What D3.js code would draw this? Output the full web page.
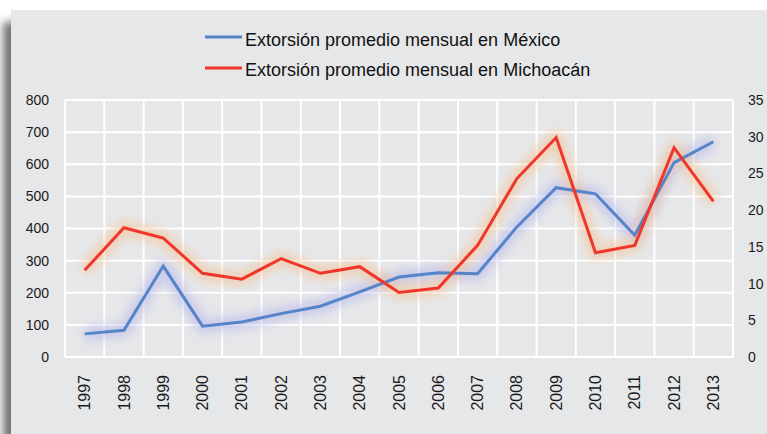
<!DOCTYPE html>
<html>
<head>
<meta charset="utf-8">
<script src="https://cdnjs.cloudflare.com/ajax/libs/d3/7.8.5/d3.min.js"></script>
<style>
  html, body { margin: 0; padding: 0; background: #ffffff; }
  svg { display: block; }
</style>
</head>
<body>
<svg id="chart" width="767" height="434"></svg>
<script>
// ---- data ----
const years = ["1997","1998","1999","2000","2001","2002","2003","2004","2005","2006","2007","2008","2009","2010","2011","2012","2013"];
const mexico = [72, 83, 283, 96, 109, 135, 158, 203, 249, 262, 259, 405, 527, 508, 379, 605, 670];
const michoacan = [11.8, 17.6, 16.2, 11.4, 10.6, 13.4, 11.4, 12.3, 8.8, 9.4, 15.2, 24.3, 29.9, 14.2, 15.2, 28.5, 21.2];
const leftTicks = [0, 100, 200, 300, 400, 500, 600, 700, 800];
const rightTicks = [0, 5, 10, 15, 20, 25, 30, 35];
const seriesNames = ["Extorsión promedio mensual en México", "Extorsión promedio mensual en Michoacán"];
const seriesColors = ["#5585c8", "#f0362a"];
const glowColors = ["#b3b4ea", "#f6c08e"];

const svg = d3.select("#chart");
const W = 767, H = 434;
const plot = { left: 65, right: 733, top: 100, bottom: 357 };
const FONT = "'Liberation Sans', Arial, sans-serif";

const defs = svg.append("defs");
const sh = defs.append("filter").attr("id", "shadow").attr("x", "-20%").attr("y", "-20%").attr("width", "140%").attr("height", "140%");
sh.append("feGaussianBlur").attr("stdDeviation", 4);
const gl = defs.append("filter").attr("id", "glow").attr("x", "-10%").attr("y", "-30%").attr("width", "120%").attr("height", "160%");
gl.append("feGaussianBlur").attr("stdDeviation", 5);

// panel shadow + panel
svg.append("rect").attr("x", 3).attr("y", 22).attr("width", W).attr("height", H)
  .attr("fill", "#444").attr("opacity", 0.75).attr("filter", "url(#shadow)");
svg.append("rect").attr("x", 11).attr("y", 10).attr("width", W - 11).attr("height", H - 10)
  .attr("fill", "#e6e7e9");

// scales
const x = d3.scaleBand().domain(years).range([plot.left, plot.right]).padding(0);
const yL = d3.scaleLinear().domain([0, 800]).range([plot.bottom, plot.top]);
const yR = d3.scaleLinear().domain([0, 35]).range([plot.bottom, plot.top]);

// grid
const grid = svg.append("g").attr("stroke", "#ffffff").attr("stroke-width", 2);
grid.selectAll("line.h").data(leftTicks).enter().append("line")
  .attr("x1", plot.left).attr("x2", plot.right)
  .attr("y1", d => yL(d)).attr("y2", d => yL(d));
const vEdges = years.map(d => x(d)).concat([plot.right]);
grid.selectAll("line.v").data(vEdges).enter().append("line")
  .attr("x1", d => d).attr("x2", d => d)
  .attr("y1", plot.top).attr("y2", plot.bottom);

// axes
const axL = svg.append("g").attr("transform", `translate(${plot.left},0)`)
  .call(d3.axisLeft(yL).tickValues(leftTicks).tickSize(0).tickPadding(16));
const axR = svg.append("g").attr("transform", `translate(${plot.right},0)`)
  .call(d3.axisRight(yR).tickValues(rightTicks).tickSize(0).tickPadding(15));
[axL, axR].forEach(a => {
  a.select(".domain").remove();
  a.selectAll("text").attr("font-family", FONT).attr("font-size", 14).attr("fill", "#1a1a1a");
});
const axB = svg.append("g").attr("transform", `translate(0,${plot.bottom})`)
  .call(d3.axisBottom(x).tickSize(0));
axB.select(".domain").remove();
axB.selectAll("text")
  .attr("font-family", FONT).attr("font-size", 16).attr("fill", "#1a1a1a")
  .attr("transform", "rotate(-90)")
  .attr("text-anchor", "end")
  .attr("x", -18).attr("y", 0).attr("dy", "0.35em");

// lines
const cx = d => x(d) + x.bandwidth() / 2;
const lineL = d3.line().x((d, i) => cx(years[i])).y(d => yL(d));
const lineR = d3.line().x((d, i) => cx(years[i])).y(d => yR(d));
const series = [
  { values: mexico, gen: lineL },
  { values: michoacan, gen: lineR }
];
series.forEach((s, i) => {
  svg.append("path").datum(s.values).attr("d", s.gen)
    .attr("fill", "none").attr("stroke", glowColors[i]).attr("stroke-width", 14)
    .attr("stroke-linejoin", "round").attr("opacity", 0.55).attr("filter", "url(#glow)");
});
series.forEach((s, i) => {
  svg.append("path").datum(s.values).attr("d", s.gen)
    .attr("fill", "none").attr("stroke", seriesColors[i]).attr("stroke-width", 3)
    .attr("stroke-linejoin", "miter");
});

// legend
const legendY = [37, 68];
const lg = svg.append("g");
seriesNames.forEach((name, i) => {
  lg.append("line").attr("x1", 205).attr("x2", 242)
    .attr("y1", legendY[i]).attr("y2", legendY[i])
    .attr("stroke", seriesColors[i]).attr("stroke-width", 3);
  lg.append("text").attr("x", 245).attr("y", legendY[i] + 9 - i * 1)
    .attr("font-family", FONT).attr("font-size", 18).attr("fill", "#111")
    .text(name);
});
</script>
</body>
</html>
